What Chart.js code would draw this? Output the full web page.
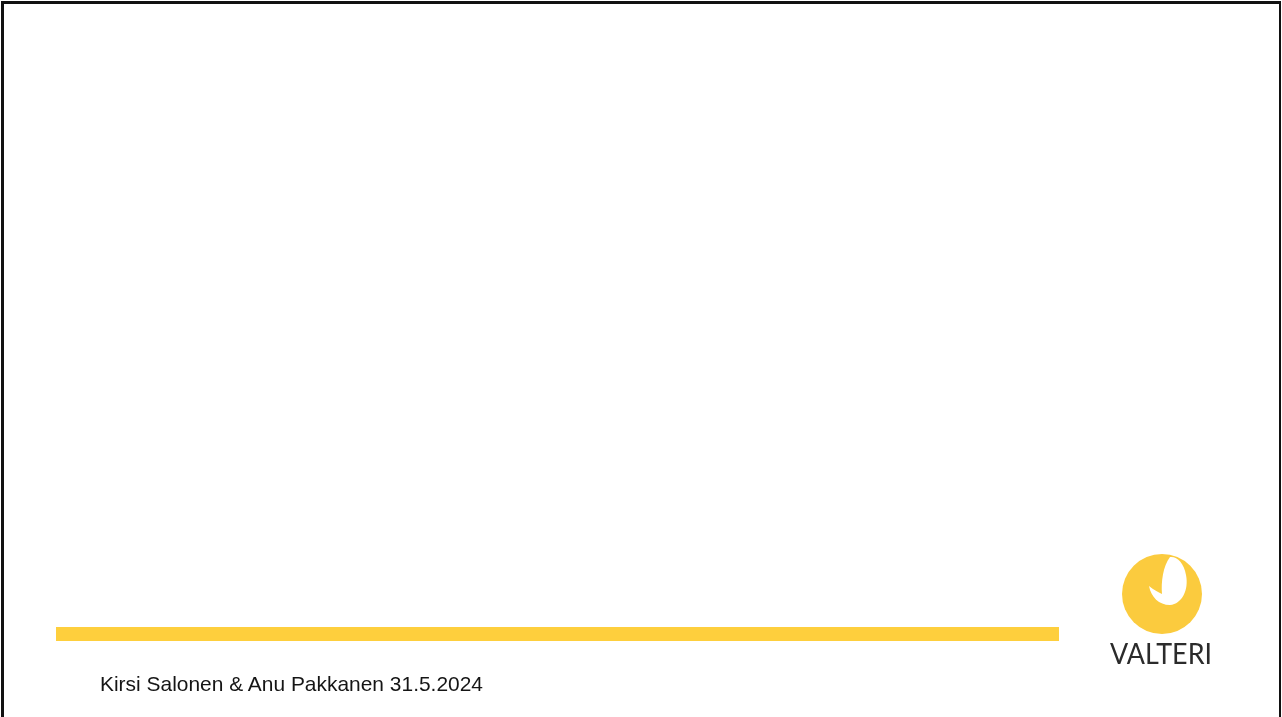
<!DOCTYPE html>
<html lang="fi">
<head>
    <meta charset="UTF-8">
    <title>Valteri</title>
    <script src="https://cdn.jsdelivr.net/npm/chart.js"></script>
    <style>
        html, body { margin: 0; padding: 0; background: #fff; }
        body { width: 1282px; height: 717px; position: relative; overflow: hidden; }
        .frame {
            position: absolute; left: 1px; top: 1px; width: 1275px; height: 720px;
            border-left: 3px solid #111; border-top: 3px solid #111; border-right: 2px solid #111;
        }
        #stripe { position: absolute; left: 56px; top: 627px; }
        svg.deco { position: absolute; left: 0; top: 0; }
    </style>
</head>
<body>
<div class="frame"></div>
<canvas id="stripe" width="1003" height="14"></canvas>
<svg class="deco" width="1282" height="717" viewBox="0 0 1282 717">
    <circle cx="1162" cy="594" r="40" fill="#FBCB3E"/>
    <path d="M1170,557 C1163,566 1161,582 1162,594 C1158,592 1154,590 1149,586 C1151,597 1159,605 1170,605 C1182,604 1189,590 1186,575 C1184,563 1177,556 1170,557 Z" fill="#fff"/>
    <text x="1110" y="664" font-family="Lato, 'Open Sans', sans-serif" font-size="28" fill="#2b2b2b"
          textLength="102" lengthAdjust="spacingAndGlyphs">VALTERI</text>
    <text x="100" y="691" font-family="'Liberation Sans', Arial, sans-serif" font-size="21" fill="#151515"
          textLength="383" lengthAdjust="spacingAndGlyphs">Kirsi Salonen &amp; Anu Pakkanen 31.5.2024</text>
</svg>
<script>
    // yellow stripe drawn as a single horizontal bar
    var stripeLabels = [''];
    var stripeValues = [100];

    var ctx = document.getElementById("stripe");
    var stripeChart = new Chart(ctx, {
        type: 'bar',
        data: {
            labels: stripeLabels,
            datasets: [{
                data: stripeValues,
                backgroundColor: "#FECF3D",
                borderWidth: 0,
                barPercentage: 1,
                categoryPercentage: 1
            }]
        },
        options: {
            indexAxis: 'y',
            responsive: false,
            animation: false,
            layout: { padding: 0 },
            plugins: { legend: { display: false }, tooltip: { enabled: false } },
            scales: {
                x: { display: false, min: 0, max: 100 },
                y: { display: false }
            }
        }
    });
</script>
</body>
</html>
